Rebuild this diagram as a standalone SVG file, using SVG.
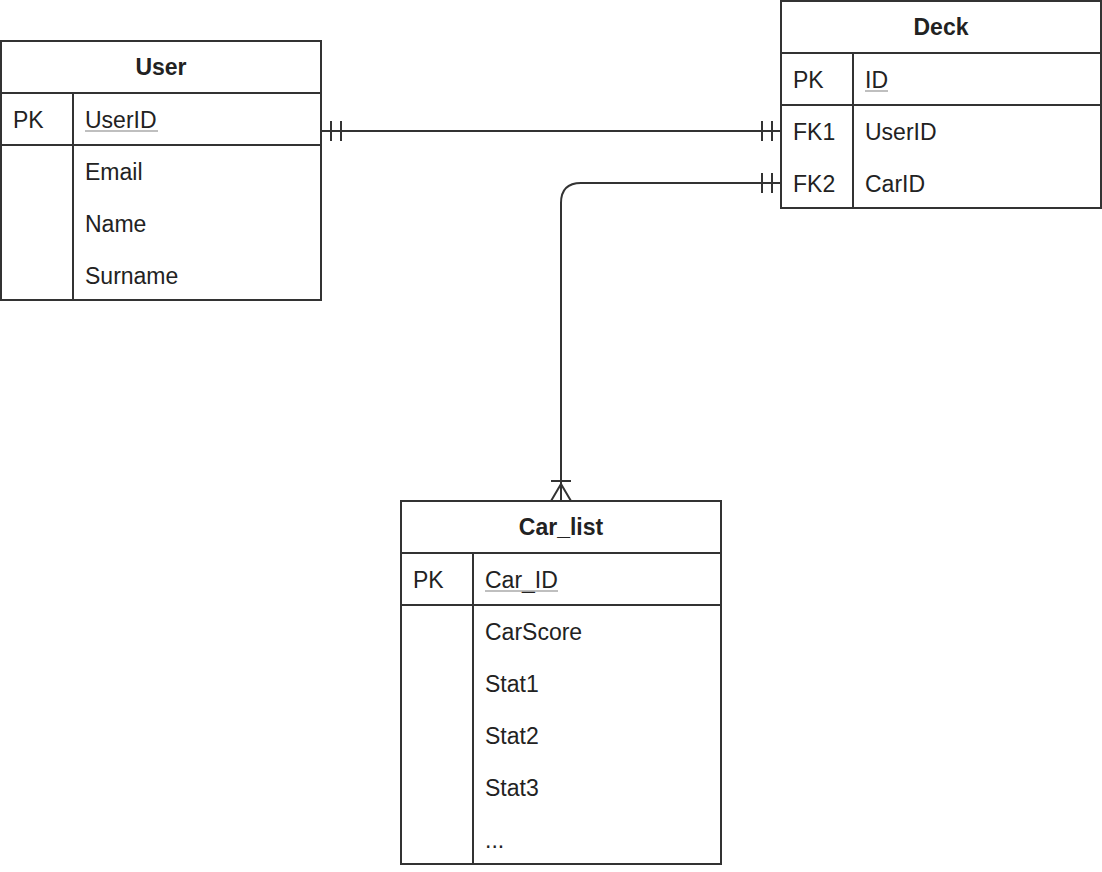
<svg xmlns="http://www.w3.org/2000/svg" width="1102" height="872" viewBox="0 0 1102 872">
<style>
.box{fill:#fff;stroke:#333;stroke-width:2}
.ln{stroke:#333;stroke-width:2;fill:none}
.t{font-family:"Liberation Sans",Arial,sans-serif;font-size:23px;fill:#222}
.h{font-family:"Liberation Sans",Arial,sans-serif;font-size:23px;font-weight:bold;fill:#222;text-anchor:middle}
.u{stroke:#aaa;stroke-width:1.5}
</style>
<rect width="1102" height="872" fill="#fff"/>
<g id="connectors">
<path class="ln" d="M321 131 H781"/>
<path class="ln" d="M331 121 V141 M341 121 V141"/>
<path class="ln" d="M762 121 V141 M772 121 V141"/>
<path class="ln" d="M781 183 H581 Q561 183 561 203 V501"/>
<path class="ln" d="M762 173 V193 M772 173 V193"/>
<path class="ln" d="M551 481 H571 M561 484 L551 501 M561 484 L571 501"/>
</g>
<g id="user">
<rect class="box" x="1" y="41" width="320" height="259"/>
<path class="ln" d="M1 93 H321 M1 145 H321 M73 93 V300"/>
<text class="h" x="161" y="75">User</text>
<text class="t" x="13" y="128">PK</text>
<text class="t" x="85" y="128">UserID</text>
<line class="u" x1="85" y1="131" x2="158" y2="131"/>
<text class="t" x="85" y="180">Email</text>
<text class="t" x="85" y="232">Name</text>
<text class="t" x="85" y="284">Surname</text>
</g>
<g id="deck">
<rect class="box" x="781" y="1" width="320" height="207"/>
<path class="ln" d="M781 53 H1101 M781 105 H1101 M853 53 V208"/>
<text class="h" x="941" y="35">Deck</text>
<text class="t" x="793" y="88">PK</text>
<text class="t" x="865" y="88">ID</text>
<line class="u" x1="865" y1="91" x2="888" y2="91"/>
<text class="t" x="793" y="140">FK1</text>
<text class="t" x="865" y="140">UserID</text>
<text class="t" x="793" y="192">FK2</text>
<text class="t" x="865" y="192">CarID</text>
</g>
<g id="car_list">
<rect class="box" x="401" y="501" width="320" height="363"/>
<path class="ln" d="M401 553 H721 M401 605 H721 M473 553 V864"/>
<text class="h" x="561" y="535">Car_list</text>
<text class="t" x="413" y="588">PK</text>
<text class="t" x="485" y="588">Car_ID</text>
<line class="u" x1="485" y1="591" x2="558" y2="591"/>
<text class="t" x="485" y="640">CarScore</text>
<text class="t" x="485" y="692">Stat1</text>
<text class="t" x="485" y="744">Stat2</text>
<text class="t" x="485" y="796">Stat3</text>
<text class="t" x="485" y="848">...</text>
</g>
</svg>
